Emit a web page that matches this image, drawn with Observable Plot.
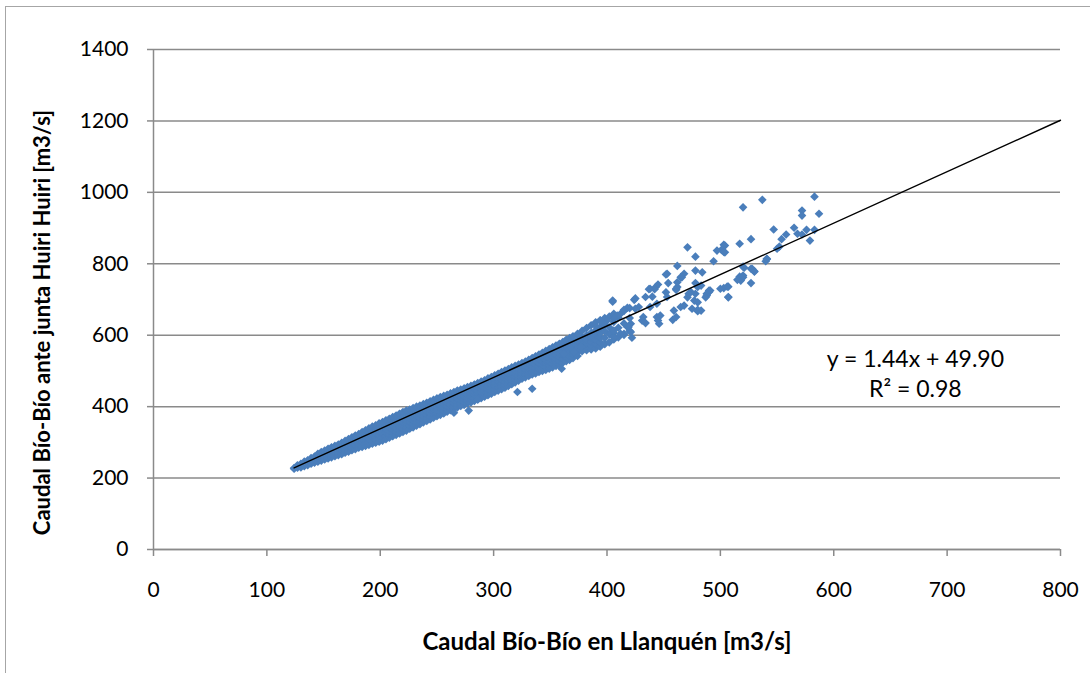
<!DOCTYPE html>
<html><head><meta charset="utf-8">
<script src="https://cdn.jsdelivr.net/npm/d3@7"></script>
<script src="https://cdn.jsdelivr.net/npm/@observablehq/plot@0.6"></script>
<style>
body{margin:0;background:#fff;overflow:hidden}
#wrap{position:relative;width:1090px;height:673px;overflow:hidden}
#border{position:absolute;left:5px;top:6px;width:1200px;height:800px;border:1.5px solid #a6a6a6;pointer-events:none}
</style></head><body><div id="wrap"><div id="chart"></div><div id="border"></div></div>
<script>
// Axis ticks
const xTicks = [0, 100, 200, 300, 400, 500, 600, 700, 800];
const yTicks = [0, 200, 400, 600, 800, 1000, 1200, 1400];

// Dense band of daily flows: Llanquén flow (x) with the Huiri Huiri flows read at that x
const bandX = [124,127,130,133,136,139,142,145,148,151,154,157,160,163,166,169,172,175,178,181,184,187,190,193,196,199,202,205,208,211,214,217,220,223,226,229,232,235,238,241,244,247,250,253,256,259,262,265,268,271,274,277,280,283,286,289,292,295,298,301,304,307,310,313,316,319,322,325,328,331,334,337,340,343,346,349,352,355,358,361,364,367,370,374,378,382,386,390,394,398,402,406,410,415,420];
const bandY = [
 [226,228],[229,233,236],[230,234,237,240],[233,237,242,246],[236,240,245,250],
 [240,244,249,253,256],[243,247,252,256,260],[246,250,255,259,264,268],[249,254,258,263,268,273],
 [252,257,262,266,271,277],[255,260,265,270,276,282],[258,264,269,274,280,286],[261,267,272,278,284,290],
 [264,270,276,282,288,294],[267,273,279,286,292,299],[271,277,284,290,297,304],[274,281,287,294,301,309],
 [278,285,291,298,306,314],[281,288,295,302,310,319],[285,292,299,306,314,323],[287,294,302,310,319,329],
 [290,298,306,314,323,334],[293,301,310,318,328,339],[296,304,313,322,332,344],[299,307,316,326,337,348],
 [302,311,320,330,341,353],[305,314,324,334,345,357],[309,318,328,338,349,362],[313,322,332,342,353,366],
 [317,326,336,346,358,371],[321,330,340,350,362,375],[325,334,344,354,366,380],[329,338,348,358,370,385],
 [333,342,352,362,374,389],[338,347,357,367,378,392],[342,351,361,371,382,396],[347,355,365,375,386,400],
 [351,359,369,379,390,403],[356,364,373,383,394,407],[360,368,378,387,398,411],[364,372,382,391,402,415],
 [369,377,386,395,406,419],[373,381,390,399,410,423],[377,385,394,403,414,427],[381,389,398,407,418,430],
 [386,393,402,411,421,433],[390,397,406,415,425,437],[394,401,410,419,429,441],[398,405,414,423,433,445],
 [402,409,418,427,437,448],[405,413,422,430,440,451],[409,417,425,434,444,455],[412,420,429,437,447,458],
 [416,424,433,441,451,462],[420,428,437,445,455,466],[424,432,441,449,459,470],[428,436,445,453,463,474],
 [432,440,449,457,467,479],[436,444,453,461,471,483],[441,449,458,466,476,488],[445,453,462,470,480,492],
 [449,457,466,475,485,497],[453,461,470,479,489,501],[458,466,474,483,493,505],[463,471,479,488,498,510],
 [468,476,484,492,502,514],[473,480,488,496,506,518],[478,485,492,500,510,522],[482,489,496,504,514,526],
 [486,493,500,509,519,531],[490,497,505,513,524,536],[493,501,509,518,529,541],[497,505,514,522,533,546],
 [500,509,518,527,538,551],[503,512,522,531,543,556],[506,516,526,536,548,561],[510,520,530,540,552,566],
 [514,524,534,545,557,571],[518,528,539,549,562,576],[523,533,544,554,567,581],[527,537,548,559,572,587],
 [531,541,552,564,577,592],[536,546,557,569,582,597],[542,552,563,575,588,604],[555,563,572,582,594,612],
 [558,567,578,588,600,620],[560,571,582,594,607,628],[563,575,588,600,614,636],[568,580,594,606,620,642],
 [575,592,611,630,648],[580,603,622,652],[588,606,637,660],[594,621,649],
 [601,633,668],[612,648,676]
];

// Scattered high-flow days
const scatterX = [583,537,520,587,572,572,547,565,576,583,568,572,558,554,579,552,550,541,540,527,517,503,501,497,504,471,478,494,462,478,484,453,468,465,520,527,530,517,520,517,527,507,503,500,490,488,487,507,478,480,478,474,471,477,480,475,480,462,461,452,453,443,445,438,440,434,425,405,438,444,432,434,431,444,446,447,458,461,465,468,428,425,421,418,422,412,409,406,400,397,394,391,388,386,403,406,415,421,374,368,362,371,377,518,515,520,506,507,488,490,491,483,483,541,528,530,521,504,503,466,462,461,452,454,442,437,424,418,415,472,480,459,445,419,412,406,394,391,321,334,360,265,278,286,405];
const scatterY = [988,979,958,940,949,935,896,901,895,895,884,882,882,869,865,848,842,813,807,869,856,853,839,837,832,846,820,807,794,781,776,772,772,762,792,786,778,764,762,758,746,736,732,730,725,716,706,706,746,735,716,721,706,697,692,674,667,735,727,720,707,735,742,730,708,707,703,697,679,688,651,634,641,651,632,655,643,651,679,683,679,674,632,623,593,660,655,646,641,632,623,613,604,599,604,594,604,609,585,566,548,553,567,753,755,767,736,707,711,721,725,739,669,814,786,779,789,851,833,762,748,730,770,746,729,729,699,677,671,716,671,669,641,623,604,613,641,623,441,450,506,383,389,420,694];

// Trendline shown in the chart
const slope = 1.44, intercept = 49.90;
const trendX = [124, 800];
const eqLines = ["y = 1.44x + 49.90", "R² = 0.98"];
const eqX = [672, 672];
const eqY = [532, 448];

const points = [];
bandX.forEach((x, i) => bandY[i].forEach(y => points.push({x, y})));
scatterX.forEach((x, i) => points.push({x, y: scatterY[i]}));
const trend = trendX.map(x => ({x, y: slope * x + intercept}));
const eq = eqLines.map((t, i) => ({t, x: eqX[i], y: eqY[i]}));

const diamond = d3.symbolDiamond2 || d3.symbolDiamond;
const grey = "#8a8a8a";

const chart = Plot.plot({
  width: 1090, height: 673,
  marginLeft: 153, marginRight: 30, marginTop: 49, marginBottom: 124,
  style: {fontFamily: "Lato, sans-serif", fontSize: "21px", background: "transparent", color: "#000"},
  x: {domain: [0, 800], label: null},
  y: {domain: [0, 1400], label: null},
  marks: [
    Plot.gridY({ticks: yTicks, stroke: grey, strokeOpacity: 1, strokeWidth: 1.5}),
    Plot.ruleX([0], {stroke: grey, strokeWidth: 1.5}),
    Plot.ruleY([0], {stroke: grey, strokeWidth: 1.5}),
    Plot.axisY({ticks: yTicks, tickFormat: d => String(d), tickSize: 6, tickPadding: 19, stroke: grey, strokeWidth: 1.5, fill: "#000", fontSize: 21, label: null}),
    Plot.axisX({ticks: xTicks, tickFormat: d => String(d), tickSize: 7, tickPadding: 26, stroke: grey, strokeWidth: 1.5, fill: "#000", fontSize: 21, label: null}),
    Plot.dot(points, {x: "x", y: "y", symbol: diamond, r: 3.9, fill: "#4a7ebb", stroke: "none"}),
    Plot.line(trend, {x: "x", y: "y", stroke: "#000", strokeWidth: 1.4}),
    Plot.text(eq, {x: "x", y: "y", text: "t", fontSize: 23, fill: "#000"}),
    Plot.text(["Caudal Bío-Bío en Llanquén [m3/s]"], {frameAnchor: "bottom", dy: 100, fontWeight: "bold", fontSize: 24, fill: "#000"}),
    Plot.text(["Caudal Bío-Bío ante junta Huiri Huiri [m3/s]"], {frameAnchor: "left", textAnchor: "middle", dx: -111, dy: 23, rotate: -90, fontWeight: "bold", fontSize: 22, fill: "#000"})
  ]
});
document.getElementById("chart").append(chart);
</script>
</body></html>
